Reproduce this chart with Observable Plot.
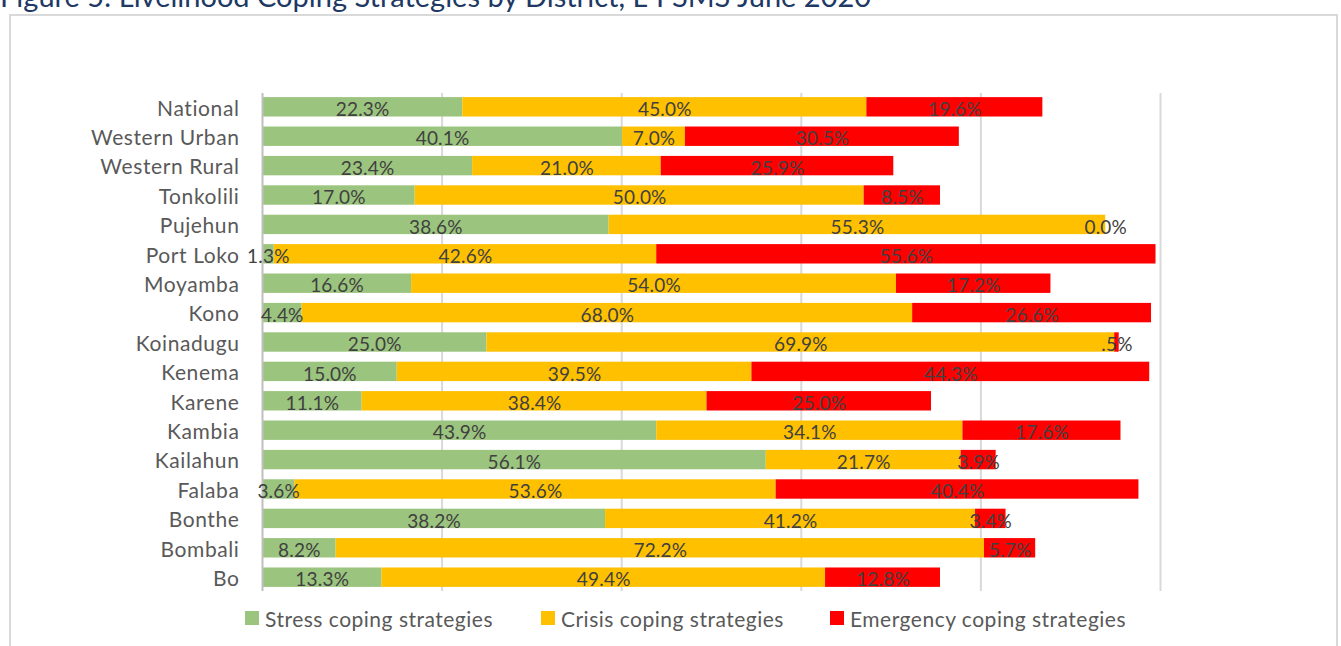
<!DOCTYPE html>
<html><head><meta charset="utf-8">
<script src="https://cdn.jsdelivr.net/npm/d3@7"></script>
<script src="https://cdn.jsdelivr.net/npm/@observablehq/plot@0.6"></script>
<style>
html,body{margin:0;padding:0;background:#fff;}
body{width:1341px;height:646px;position:relative;overflow:hidden;font-family:Lato,"Open Sans",sans-serif;}
#title{position:absolute;left:0;top:-19px;font-size:29px;line-height:29px;color:#203864;white-space:nowrap;}
#frame{position:absolute;left:9px;top:14px;width:1329px;height:700px;border:2px solid #d9d9d9;box-sizing:border-box;}
#chart{position:absolute;left:0;top:0;}
.item{position:absolute;top:611px;height:14px;display:flex;align-items:center;font-size:21px;letter-spacing:0.5px;color:#595959;white-space:nowrap;}
.sw{width:14px;height:14px;margin-right:6px;display:inline-block;flex:none;}
.ylab text{letter-spacing:0.6px;}
.vlab text{letter-spacing:0.2px;}
</style>
</head><body>
<div id="title"></div>
<div id="frame"></div>
<div id="chart"></div>
<div id="legend"></div>
<script>
const titleText = "Figure 5: Livelihood Coping Strategies by District, L-FSMS June 2020";
const districts = ["National","Western Urban","Western Rural","Tonkolili","Pujehun","Port Loko","Moyamba","Kono","Koinadugu","Kenema","Karene","Kambia","Kailahun","Falaba","Bonthe","Bombali","Bo"];
const stress    = [22.3,40.1,23.4,17.0,38.6,1.3,16.6,4.4,25.0,15.0,11.1,43.9,56.1,3.6,38.2,8.2,13.3];
const crisis    = [45.0,7.0,21.0,50.0,55.3,42.6,54.0,68.0,69.9,39.5,38.4,34.1,21.7,53.6,41.2,72.2,49.4];
const emergency = [19.6,30.5,25.9,8.5,0.0,55.6,17.2,26.6,0.5,44.3,25.0,17.6,3.9,40.4,3.4,5.7,12.8];
const seriesNames = ["Stress coping strategies","Crisis coping strategies","Emergency coping strategies"];
const seriesColors = ["#9BC47E","#FFC000","#FF0000"];
const gridTicks = [0,20,40,60,80,100];

const seriesValues = [stress, crisis, emergency];
const rows = districts.flatMap((d, i) => seriesNames.map((s, j) => ({district: d, series: s, value: seriesValues[j][i]})));
const f1 = d3.format(".1f");
const fmt = v => (v > 0 && v < 1 ? f1(v).slice(1) : f1(v)) + "%";

document.getElementById("title").textContent = titleText;

const chart = Plot.plot({
  width: 1341, height: 600,
  marginLeft: 262, marginRight: 181, marginTop: 93, marginBottom: 9,
  x: {domain: [0, 100], axis: null},
  y: {domain: districts, paddingInner: 0.34, paddingOuter: 0.14, round: false, axis: null, label: null},
  color: {domain: seriesNames, range: seriesColors},
  style: {fontFamily: "Lato, 'Open Sans', sans-serif", background: "transparent", overflow: "visible"},
  marks: [
    Plot.ruleX(gridTicks.filter(t => t > 0), {stroke: "#d9d9d9", strokeWidth: 2}),
    Plot.barX(rows, {x: "value", y: "district", fill: "series"}),
    Plot.ruleX([0], {stroke: "#bfbfbf", strokeWidth: 2}),
    Plot.axisY({tickSize: 0, tickPadding: 23, fontSize: 21, color: "#595959", dy: 1.5, label: null, className: "ylab"}),
    Plot.text(rows, Plot.stackX({x: "value", y: "district", z: "series", text: d => fmt(d.value), fill: "#404040", fontSize: 19, dy: 2.6, className: "vlab"}))
  ]
});
document.getElementById("chart").appendChild(chart);

const legendLeft = [245, 541, 830];
const legend = document.getElementById("legend");
seriesNames.forEach((s, i) => {
  const it = document.createElement("div");
  it.className = "item";
  it.style.left = legendLeft[i] + "px";
  const sw = document.createElement("span");
  sw.className = "sw";
  sw.style.background = seriesColors[i];
  it.appendChild(sw);
  it.appendChild(document.createTextNode(s));
  legend.appendChild(it);
});
</script>
</body></html>
